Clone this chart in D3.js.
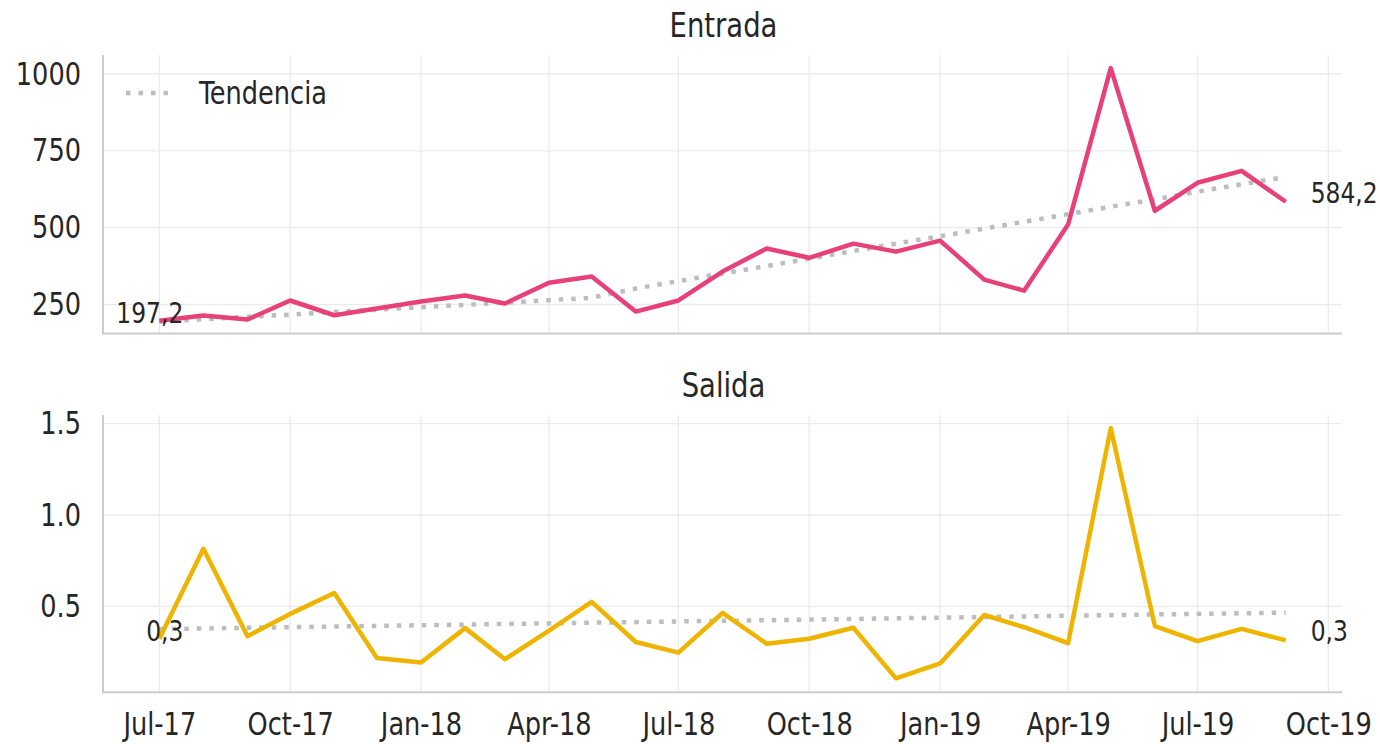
<!DOCTYPE html>
<html>
<head>
<meta charset="utf-8">
<script src="https://cdn.jsdelivr.net/npm/d3@7"></script>
<style>
  body { margin: 0; background: #fff; }
  svg text { font-family: "DejaVu Sans", sans-serif; font-stretch: condensed; fill: #262626; }
</style>
</head>
<body>
<div id="chart"></div>
<script>
// monthly data, Jul-17 .. Sep-19
const months = ["2017-07","2017-08","2017-09","2017-10","2017-11","2017-12",
  "2018-01","2018-02","2018-03","2018-04","2018-05","2018-06","2018-07","2018-08",
  "2018-09","2018-10","2018-11","2018-12","2019-01","2019-02","2019-03","2019-04",
  "2019-05","2019-06","2019-07","2019-08","2019-09"];

const entrada = [197.2, 214, 201, 263, 215, 237, 260, 279, 253, 321, 341, 227, 263, 357,
  432, 402, 448, 422, 458, 331, 295, 510, 1019, 555, 646, 685, 584.2];
const entradaTrend = [194, 202, 210, 217, 226, 233, 241, 249, 256, 264, 272, 302, 326, 351,
  375, 399, 424, 448, 472, 497, 519, 544, 568, 592, 617, 641, 665];

const salida = [0.323, 0.815, 0.337, 0.459, 0.573, 0.218, 0.193, 0.381, 0.211, 0.368, 0.525,
  0.305, 0.247, 0.464, 0.296, 0.323, 0.383, 0.106, 0.188, 0.453, 0.386, 0.299, 1.475, 0.392,
  0.310, 0.377, 0.314];
const salidaTrend = [0.376, 0.379, 0.383, 0.386, 0.390, 0.393, 0.397, 0.400, 0.404, 0.407,
  0.411, 0.414, 0.418, 0.421, 0.424, 0.428, 0.431, 0.435, 0.438, 0.442, 0.445, 0.449, 0.452,
  0.456, 0.459, 0.462, 0.466];

const entradaTicks = [250, 500, 750, 1000];
const salidaTicks = [0.5, 1.0, 1.5];
const xTickMonths = ["2017-07","2017-10","2018-01","2018-04","2018-07","2018-10",
  "2019-01","2019-04","2019-07","2019-10"];

const width = 1380, height = 744;
const margin = { left: 103, right: 38 };
const parse = d3.timeParse("%Y-%m");
const dates = months.map(parse);
const stretch = "scale(1,1.1)"; // the source image text is a bit tall and narrow

const svg = d3.select("#chart").append("svg")
  .attr("width", width)
  .attr("height", height);

// matplotlib-like 5% padding around first/last month
const pad = (dates[dates.length - 1] - dates[0]) * 0.05;
const x = d3.scaleTime()
  .domain([new Date(+dates[0] - pad), new Date(+dates[dates.length - 1] + pad)])
  .range([margin.left, width - margin.right]);

const comma = d3.formatLocale({ decimal: ",", thousands: ".", grouping: [3], currency: ["", ""] });

function label(parent, px, py, str, size, anchor) {
  return parent.append("text")
    .attr("transform", `translate(${px},${py}) ${stretch}`)
    .attr("text-anchor", anchor).attr("font-size", size)
    .text(str);
}

function panel(cfg) {
  const y = d3.scaleLinear().domain(cfg.domain).range([cfg.bottom, cfg.top]);
  const g = svg.append("g");

  // grid
  g.append("g").selectAll("line")
    .data(cfg.ticks).join("line")
    .attr("x1", margin.left).attr("x2", width - margin.right)
    .attr("y1", d => y(d)).attr("y2", d => y(d))
    .attr("stroke", "#ebebeb").attr("stroke-width", 1.3);
  g.append("g").selectAll("line")
    .data(xTickMonths.map(parse)).join("line")
    .attr("x1", d => x(d)).attr("x2", d => x(d))
    .attr("y1", cfg.top).attr("y2", cfg.bottom)
    .attr("stroke", "#ebebeb").attr("stroke-width", 1.3);

  // y axis labels
  const yAxis = g.append("g")
    .attr("transform", `translate(${margin.left},0)`)
    .call(d3.axisLeft(y).tickValues(cfg.ticks).tickFormat(cfg.tickFormat).tickSize(0).tickPadding(22));
  yAxis.select(".domain").remove();
  yAxis.selectAll("text").attr("font-size", 28.5).attr("font-family", null)
    .attr("fill", "#262626").attr("transform", stretch);

  // spines
  g.append("line").attr("x1", margin.left).attr("x2", margin.left)
    .attr("y1", cfg.top).attr("y2", cfg.bottom + 1)
    .attr("stroke", "#cccccc").attr("stroke-width", 2);
  g.append("line").attr("x1", margin.left - 1).attr("x2", width - margin.right)
    .attr("y1", cfg.bottom).attr("y2", cfg.bottom)
    .attr("stroke", "#cccccc").attr("stroke-width", 2);

  const line = d3.line().x((d, i) => x(dates[i])).y(d => y(d));

  g.append("path").datum(cfg.trend)
    .attr("fill", "none").attr("stroke", "#bdbdbd")
    .attr("stroke-width", 4.5).attr("stroke-dasharray", "4.5,8")
    .attr("d", line);

  g.append("path").datum(cfg.values)
    .attr("fill", "none").attr("stroke", cfg.color)
    .attr("stroke-width", 4.5).attr("stroke-linejoin", "round")
    .attr("d", line);

  // first / last value labels
  const n = cfg.values.length;
  const fmt = comma.format(cfg.labelFmt);
  label(g, x(dates[0]) + 24, y(cfg.values[0]) + 2, fmt(cfg.values[0]), 26, "end");
  label(g, x(dates[n - 1]) + 25, y(cfg.values[n - 1]) + 1, fmt(cfg.values[n - 1]), 26, "start");

  // title
  label(svg, (margin.left + width - margin.right) / 2 + 1, cfg.top - 18, cfg.title, 30.5, "middle");
  return { g, y };
}

const entradaPanel = panel({
  title: "Entrada", values: entrada, trend: entradaTrend, color: "#e8417a",
  domain: [155.6, 1061.8], top: 55, bottom: 333.5,
  ticks: entradaTicks, tickFormat: d3.format("d"), labelFmt: ".1f"
});

const salidaPanel = panel({
  title: "Salida", values: salida, trend: salidaTrend, color: "#efb400",
  domain: [0.030, 1.547], top: 415, bottom: 692.3,
  ticks: salidaTicks, tickFormat: d3.format(".1f"), labelFmt: ".1f"
});

// x axis labels under bottom panel
const xAxis = svg.append("g")
  .attr("transform", `translate(0,692.3)`)
  .call(d3.axisBottom(x).tickValues(xTickMonths.map(parse))
    .tickFormat(d3.timeFormat("%b-%y")).tickSize(0).tickPadding(19));
xAxis.select(".domain").remove();
xAxis.selectAll("text").attr("font-size", 28.5).attr("font-family", null)
  .attr("fill", "#262626").attr("transform", stretch);

// legend
const legend = svg.append("g");
legend.append("line")
  .attr("x1", 126).attr("x2", 172).attr("y1", 93).attr("y2", 93)
  .attr("stroke", "#bdbdbd").attr("stroke-width", 4.5).attr("stroke-dasharray", "4.5,8");
label(legend, 199, 104, "Tendencia", 28.5, "start");
</script>
</body>
</html>
